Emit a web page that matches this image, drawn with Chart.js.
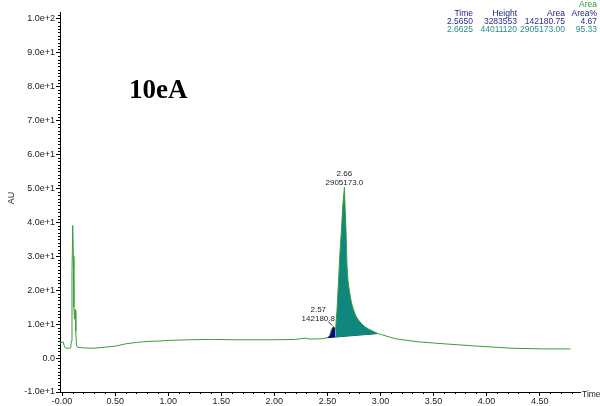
<!DOCTYPE html>
<html>
<head>
<meta charset="utf-8">
<script src="https://cdn.jsdelivr.net/npm/chart.js@4"></script>
<style>
  html, body { margin: 0; padding: 0; background: #fff; }
</style>
</head>
<body>
<canvas id="chrom" width="600" height="406"></canvas>
<script>
/* =========================
   DATA
========================= */

const traceTime = [
  -0.02, 0.00, 0.01, 0.02, 0.03, 0.05, 0.07, 0.08, 0.087, 0.093, 0.10, 0.106, 0.111,
  0.116, 0.12, 0.124, 0.129, 0.135, 0.145, 0.20, 0.30, 0.40, 0.50, 0.60, 0.70, 0.80,
  0.90, 1.00, 1.20, 1.40, 1.60, 1.80, 2.00, 2.20, 2.29, 2.33, 2.45, 2.50, 2.52, 2.54,
  2.555, 2.565, 2.577, 2.59, 2.605, 2.618, 2.632, 2.645, 2.66, 2.667, 2.675, 2.685,
  2.695, 2.71, 2.725, 2.745, 2.765, 2.79, 2.82, 2.85, 2.89, 2.93, 2.97, 3.01, 3.14,
  3.35, 3.60, 3.92, 4.24, 4.55, 4.79
];
const traceAU = [
  4.5, 4.6, 4.8, 3.6, 3.0, 2.9, 2.9, 3.0, 5.0, 25.0, 39.1, 30.0, 15.0,
  11.5, 14.5, 14.0, 8.0, 3.8, 3.2, 3.0, 2.9, 3.2, 3.5, 4.2, 4.6, 4.9,
  5.0, 5.2, 5.4, 5.5, 5.4, 5.4, 5.4, 5.5, 5.9, 5.6, 5.7, 6.0, 6.6, 8.6,
  9.3, 9.0, 8.7, 14.0, 23.0, 31.0, 37.8, 45.0, 50.3, 44.0, 37.8, 27.0,
  22.5, 19.2, 16.5, 14.3, 12.6, 11.3, 10.2, 9.3, 8.5, 7.9, 7.3, 6.9, 5.7,
  4.8, 4.2, 3.5, 2.9, 2.7, 2.7
];

// integration windows and their drawn baselines [start, end]
const smallPeakTimes = [2.50, 2.577];
const smallPeakBase = [6.0, 6.2];
const mainPeakTimes = [2.577, 2.97];
const mainPeakBase = [6.2, 7.2];

// peak table (top right)
const peakRT = ["2.5650", "2.6625"];
const peakHeight = ["3283553", "44011120"];
const peakArea = ["142180.75", "2905173.00"];
const peakAreaPct = ["4.67", "95.33"];

// peak labels on the plot
const labelRT = ["2.57", "2.66"];
const labelArea = ["142180.8", "2905173.0"];

const xTickValues = [0, 0.5, 1.0, 1.5, 2.0, 2.5, 3.0, 3.5, 4.0, 4.5];
const xTickLabels = ["-0.00", "0.50", "1.00", "1.50", "2.00", "2.50", "3.00", "3.50", "4.00", "4.50"];
const yTickValues = [-10, 0, 10, 20, 30, 40, 50, 60, 70, 80, 90, 100];
const yTickLabels = ["-1.0e+1", "0.0", "1.0e+1", "2.0e+1", "3.0e+1", "4.0e+1", "5.0e+1",
  "6.0e+1", "7.0e+1", "8.0e+1", "9.0e+1", "1.0e+2"];


/* =========================
   HELPERS
========================= */

const FONT = "'Liberation Sans', Arial, sans-serif";
const GREEN = "#3a9c3a";
const TEAL = "#0f877f";
const NAVY = "#0a0a80";

function points(ts, ys) {
  return ts.map((t, i) => ({ x: t, y: ys[i] }));
}

function windowPoints(range) {
  return points(traceTime, traceAU).filter(p => p.x >= range[0] - 1e-9 && p.x <= range[1] + 1e-9);
}


/* =========================
   OVERLAY PLUGIN
   (minor ticks, titles, peak labels, table)
========================= */

const overlay = {
  id: "overlay",
  afterDraw(chart) {
    const { ctx, chartArea, scales } = chart;
    const xs = scales.x, ys = scales.y;
    ctx.save();

    // minor ticks
    ctx.strokeStyle = "#000";
    ctx.lineWidth = 1;
    ctx.beginPath();
    for (let i = 1; i <= 49; i++) {
      if (i % 5 === 0) continue;
      const px = Math.round(xs.getPixelForValue(i / 10)) + 0.5;
      if (px > chartArea.right) break;
      ctx.moveTo(px, chartArea.bottom);
      ctx.lineTo(px, chartArea.bottom + 2);
    }
    for (let v = -9; v <= 101; v++) {
      if (v % 10 === 0) continue;
      const py = Math.round(ys.getPixelForValue(v)) + 0.5;
      ctx.moveTo(chartArea.left - 2, py);
      ctx.lineTo(chartArea.left, py);
    }
    ctx.stroke();

    // axis titles
    ctx.fillStyle = "#222";
    ctx.font = `8.5px ${FONT}`;
    ctx.textBaseline = "middle";
    ctx.textAlign = "left";
    ctx.fillText("Time", chartArea.right + 2, chartArea.bottom + 3);
    ctx.font = `9px ${FONT}`;
    ctx.save();
    ctx.translate(12, 198);
    ctx.rotate(-Math.PI / 2);
    ctx.textAlign = "center";
    ctx.fillText("AU", 0, 0);
    ctx.restore();

    // sample name
    ctx.font = `bold 27px 'Liberation Serif', 'Times New Roman', serif`;
    ctx.fillStyle = "#000";
    ctx.textAlign = "left";
    ctx.textBaseline = "alphabetic";
    ctx.fillText("10eA", 129, 98);

    // peak labels
    ctx.font = `8px ${FONT}`;
    ctx.fillStyle = "#222";
    ctx.textAlign = "center";
    const mx = xs.getPixelForValue(2.66);
    const my = ys.getPixelForValue(50.3);
    ctx.fillText(labelRT[1], mx, my - 11);
    ctx.fillText(labelArea[1], mx, my - 2);

    const sx = xs.getPixelForValue(2.555);
    const sy = ys.getPixelForValue(9.3);
    ctx.fillText(labelRT[0], sx - 15, sy - 15);
    ctx.fillText(labelArea[0], sx - 15, sy - 6);
    ctx.strokeStyle = "#222";
    ctx.beginPath();
    ctx.moveTo(sx - 5, sy - 5);
    ctx.lineTo(sx - 1, sy - 1);
    ctx.stroke();

    // peak table
    ctx.font = `8.5px ${FONT}`;
    ctx.textAlign = "right";
    const colX = [473, 517, 565, 597];
    ctx.fillStyle = "#2a9a2a";
    ctx.fillText("Area", colX[3], 7);
    ctx.fillStyle = "#1a1a7a";
    ["Time", "Height", "Area", "Area%"].forEach((h, i) => ctx.fillText(h, colX[i], 16));
    const rowColors = ["#2a2a8c", "#2a8a8a"];
    peakRT.forEach((rt, r) => {
      ctx.fillStyle = rowColors[r];
      const y = 24 + r * 8;
      [rt, peakHeight[r], peakArea[r], peakAreaPct[r]].forEach((v, i) => ctx.fillText(v, colX[i], y));
    });

    ctx.restore();
  }
};


/* =========================
   CHART
========================= */

const axisFont = { size: 9, family: FONT };

new Chart(document.getElementById("chrom"), {
  type: "line",
  data: {
    datasets: [
      {
        label: "trace",
        data: points(traceTime, traceAU),
        borderColor: GREEN,
        borderWidth: 1,
        pointRadius: 0,
        fill: false,
        order: 0
      },
      {
        label: "peak1",
        data: windowPoints(smallPeakTimes),
        borderColor: NAVY,
        borderWidth: 0,
        backgroundColor: NAVY,
        pointRadius: 0,
        fill: 2,
        order: 2
      },
      {
        label: "base1",
        data: points(smallPeakTimes, smallPeakBase),
        borderColor: NAVY,
        borderWidth: 1,
        pointRadius: 0,
        fill: false,
        order: 2
      },
      {
        label: "peak2",
        data: windowPoints(mainPeakTimes),
        borderColor: TEAL,
        borderWidth: 0,
        backgroundColor: TEAL,
        pointRadius: 0,
        fill: 4,
        order: 1
      },
      {
        label: "base2",
        data: points(mainPeakTimes, mainPeakBase),
        borderColor: "#0b5f5a",
        borderWidth: 1,
        pointRadius: 0,
        fill: false,
        order: 1
      }
    ]
  },
  options: {
    responsive: false,
    animation: false,
    parsing: false,
    layout: { padding: { top: 12, right: 20, left: 0, bottom: 0 } },
    plugins: {
      legend: { display: false },
      tooltip: { enabled: false }
    },
    scales: {
      x: {
        type: "linear",
        min: -0.02,
        max: 4.88,
        afterBuildTicks: s => { s.ticks = xTickValues.map(v => ({ value: v })); },
        afterFit: s => { s.height = 14; },
        ticks: {
          callback: (v, i) => xTickLabels[i],
          font: axisFont,
          color: "#222",
          padding: 0,
          maxRotation: 0,
          autoSkip: false
        },
        grid: { drawOnChartArea: false, tickLength: 4, color: "#000" },
        border: { color: "#000", width: 1 }
      },
      y: {
        type: "linear",
        min: -10,
        max: 102,
        afterBuildTicks: s => { s.ticks = yTickValues.map(v => ({ value: v })); },
        afterFit: s => { s.width = 60; },
        ticks: {
          callback: (v, i) => yTickLabels[i],
          font: axisFont,
          color: "#222",
          padding: 1,
          autoSkip: false
        },
        grid: { drawOnChartArea: false, tickLength: 4, color: "#000" },
        border: { color: "#000", width: 1 }
      }
    }
  },
  plugins: [overlay]
});
</script>
</body>
</html>
